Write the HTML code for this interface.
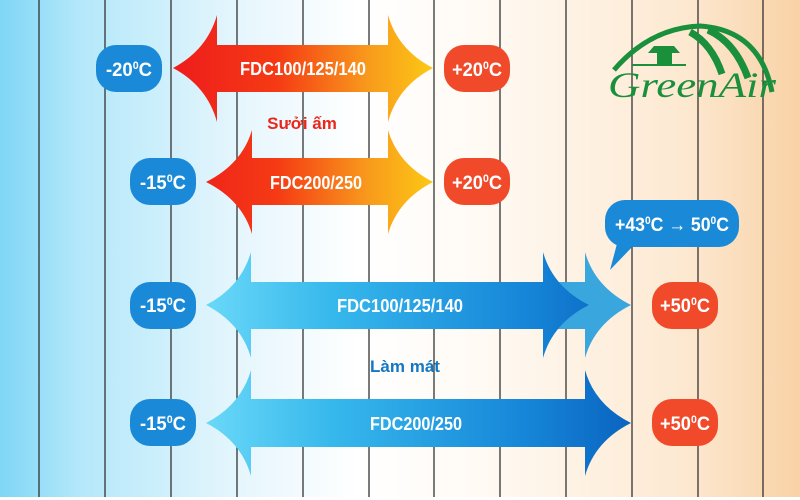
<!DOCTYPE html>
<html><head><meta charset="utf-8"><style>html,body{margin:0;padding:0;width:800px;height:500px;overflow:hidden}</style></head>
<body>
<svg width="800" height="500" viewBox="0 0 800 500" xmlns="http://www.w3.org/2000/svg" font-family="Liberation Sans, sans-serif" font-weight="bold">
<defs>
<linearGradient id="bg" x1="0" x2="1" y1="0" y2="0">
<stop offset="0" stop-color="#7fd6f6"/><stop offset="0.1" stop-color="#b4e8fa"/><stop offset="0.3" stop-color="#e6f6fd"/><stop offset="0.45" stop-color="#ffffff"/><stop offset="0.6" stop-color="#fffaf4"/><stop offset="0.85" stop-color="#fde9d2"/><stop offset="1" stop-color="#f9d2a6"/>
</linearGradient>
<linearGradient id="red" x1="173" x2="433" gradientUnits="userSpaceOnUse">
<stop offset="0" stop-color="#ee1c1c"/><stop offset="0.4" stop-color="#f53a14"/><stop offset="0.75" stop-color="#f89a1c"/><stop offset="1" stop-color="#fcc814"/>
</linearGradient>
<linearGradient id="blue" x1="206" x2="631" gradientUnits="userSpaceOnUse">
<stop offset="0" stop-color="#6ad8f8"/><stop offset="0.3" stop-color="#36b8ec"/><stop offset="0.75" stop-color="#1686d8"/><stop offset="1" stop-color="#0a64c0"/>
</linearGradient>
</defs>
<rect width="800" height="500" fill="url(#bg)"/>
<g stroke="#333" stroke-width="1.3">
<line x1="39" y1="0" x2="39" y2="497"/><line x1="105" y1="0" x2="105" y2="497"/><line x1="171" y1="0" x2="171" y2="497"/><line x1="237" y1="0" x2="237" y2="497"/><line x1="303" y1="0" x2="303" y2="497"/><line x1="369" y1="0" x2="369" y2="497"/><line x1="434" y1="0" x2="434" y2="497"/><line x1="500" y1="0" x2="500" y2="497"/><line x1="566" y1="0" x2="566" y2="497"/><line x1="632" y1="0" x2="632" y2="497"/><line x1="698" y1="0" x2="698" y2="497"/><line x1="763" y1="0" x2="763" y2="497"/>
</g>
<rect x="0" y="497" width="800" height="3" fill="#fff"/>

<path d="M217,45 L388,45 L388,15 Q398,50 433,68 Q398,86 388,122 L388,92 L217,92 L217,122 Q207,86 173,68 Q207,50 217,15 Z" fill="url(#red)"/>
<path d="M252,158 L388,158 L388,130 Q398,164 433,182 Q398,200 388,234 L388,205 L252,205 L252,234 Q242,200 206,182 Q242,164 252,130 Z" fill="url(#red)"/>

<path d="M555,282 L585,282 L585,252 Q595,287 631,305 Q595,323 585,358 L585,329 L555,329 Z" fill="#3aa6de"/>
<path d="M251,282 L543,282 L543,252 Q553,287 589,305 Q553,323 543,358 L543,329 L251,329 L251,358 Q241,323 206,305 Q241,287 251,252 Z" fill="url(#blue)"/>
<path d="M251,399 L585,399 L585,370 Q595,405 631,423 Q595,441 585,476 L585,447 L251,447 L251,476 Q241,441 206,423 Q241,405 251,370 Z" fill="url(#blue)"/>

<g fill="#fff" font-size="18" text-anchor="middle">
<text x="303" y="75" textLength="126" lengthAdjust="spacingAndGlyphs">FDC100/125/140</text>
<text x="316" y="189" textLength="92" lengthAdjust="spacingAndGlyphs">FDC200/250</text>
<text x="400" y="312" textLength="126" lengthAdjust="spacingAndGlyphs">FDC100/125/140</text>
<text x="416" y="430" textLength="92" lengthAdjust="spacingAndGlyphs">FDC200/250</text>
</g>

<text x="302" y="129" font-size="17" fill="#e8281c" text-anchor="middle">Sưởi ấm</text>
<text x="405" y="372" font-size="17" fill="#1477c4" text-anchor="middle">Làm mát</text>

<g fill="#1a8ad8">
<rect x="96" y="45" width="66" height="47" rx="20"/>
<rect x="130" y="158" width="66" height="47" rx="20"/>
<rect x="130" y="282" width="66" height="47" rx="20"/>
<rect x="130" y="399" width="66" height="47" rx="20"/>
<rect x="605" y="200" width="134" height="47" rx="20"/>
<path d="M618,240 L610,270 L635,244 Z"/>
</g>
<g fill="#f04a2a">
<rect x="444" y="45" width="66" height="47" rx="20"/>
<rect x="444" y="158" width="66" height="47" rx="20"/>
<rect x="652" y="282" width="66" height="47" rx="20"/>
<rect x="652" y="399" width="66" height="47" rx="20"/>
</g>
<g fill="#fff" font-size="19" text-anchor="middle">
<text x="129" y="76" textLength="46" lengthAdjust="spacingAndGlyphs">-20<tspan font-size="11" dy="-7">0</tspan><tspan dy="7">C</tspan></text>
<text x="163" y="189" textLength="46" lengthAdjust="spacingAndGlyphs">-15<tspan font-size="11" dy="-7">0</tspan><tspan dy="7">C</tspan></text>
<text x="163" y="312" textLength="46" lengthAdjust="spacingAndGlyphs">-15<tspan font-size="11" dy="-7">0</tspan><tspan dy="7">C</tspan></text>
<text x="163" y="430" textLength="46" lengthAdjust="spacingAndGlyphs">-15<tspan font-size="11" dy="-7">0</tspan><tspan dy="7">C</tspan></text>
<text x="477" y="76" textLength="50" lengthAdjust="spacingAndGlyphs">+20<tspan font-size="11" dy="-7">0</tspan><tspan dy="7">C</tspan></text>
<text x="477" y="189" textLength="50" lengthAdjust="spacingAndGlyphs">+20<tspan font-size="11" dy="-7">0</tspan><tspan dy="7">C</tspan></text>
<text x="685" y="312" textLength="50" lengthAdjust="spacingAndGlyphs">+50<tspan font-size="11" dy="-7">0</tspan><tspan dy="7">C</tspan></text>
<text x="685" y="430" textLength="50" lengthAdjust="spacingAndGlyphs">+50<tspan font-size="11" dy="-7">0</tspan><tspan dy="7">C</tspan></text>
<text x="672" y="231" textLength="114" lengthAdjust="spacingAndGlyphs">+43<tspan font-size="11" dy="-7">0</tspan><tspan dy="7">C → 50</tspan><tspan font-size="11" dy="-7">0</tspan><tspan dy="7">C</tspan></text>
</g>

<g fill="none" stroke="#1a8f3c">
<path d="M614,70 Q650,28 700,26 Q760,30 772,92" stroke-width="5"/>
<path d="M690,32 Q712,44 722,74" stroke-width="7"/>
<path d="M708,30 Q735,42 748,78" stroke-width="7"/>
</g>
<g fill="#1a8f3c">
<path d="M654,46 L674,46 L680,53 L648,53 Z"/>
<rect x="657" y="53" width="15" height="12"/>
<rect x="632" y="64" width="54" height="2"/>
</g>
<text x="692" y="97" font-family="Liberation Serif, serif" font-style="italic" font-weight="normal" font-size="36" fill="#1a8f3c" text-anchor="middle" textLength="168" lengthAdjust="spacingAndGlyphs">GreenAir</text>
</svg>
</body></html>
